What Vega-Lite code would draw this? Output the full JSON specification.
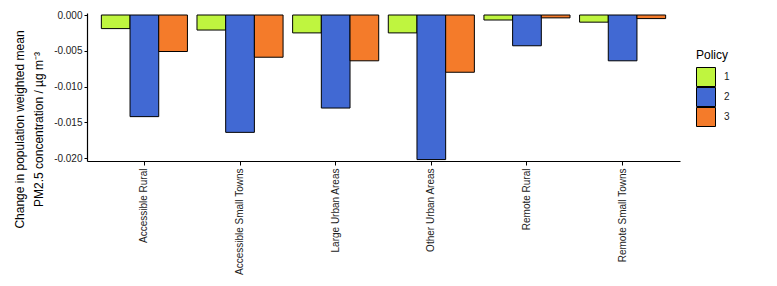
{
  "$schema": "https://vega.github.io/schema/vega-lite/v6.json",
  "autosize": {"type": "none"},
  "padding": {"left": 87, "top": 13, "right": 97, "bottom": 125},
  "width": 593,
  "height": 148,
  "background": "white",
  "data": {
    "values": [
      {"area": "Accessible Rural", "policy": "1", "change": -0.0019},
      {"area": "Accessible Rural", "policy": "2", "change": -0.0142},
      {"area": "Accessible Rural", "policy": "3", "change": -0.0051},
      {"area": "Accessible Small Towns", "policy": "1", "change": -0.0021},
      {"area": "Accessible Small Towns", "policy": "2", "change": -0.0164},
      {"area": "Accessible Small Towns", "policy": "3", "change": -0.0059},
      {"area": "Large Urban Areas", "policy": "1", "change": -0.0025},
      {"area": "Large Urban Areas", "policy": "2", "change": -0.0130},
      {"area": "Large Urban Areas", "policy": "3", "change": -0.0064},
      {"area": "Other Urban Areas", "policy": "1", "change": -0.0025},
      {"area": "Other Urban Areas", "policy": "2", "change": -0.0202},
      {"area": "Other Urban Areas", "policy": "3", "change": -0.0080},
      {"area": "Remote Rural", "policy": "1", "change": -0.0007},
      {"area": "Remote Rural", "policy": "2", "change": -0.0043},
      {"area": "Remote Rural", "policy": "3", "change": -0.0004},
      {"area": "Remote Small Towns", "policy": "1", "change": -0.0010},
      {"area": "Remote Small Towns", "policy": "2", "change": -0.0064},
      {"area": "Remote Small Towns", "policy": "3", "change": -0.0005}
    ]
  },
  "mark": {"type": "bar", "stroke": "black", "strokeWidth": 1},
  "encoding": {
    "x": {
      "field": "area",
      "type": "nominal",
      "scale": {"paddingInner": 0.1, "paddingOuter": 0.15},
      "axis": {
        "title": null,
        "labelAngle": -90,
        "labelAlign": "right",
        "labelBaseline": "middle",
        "labelFont": "Liberation Sans",
        "labelFontSize": 10,
        "labelColor": "#222222",
        "labelPadding": 3,
        "tickColor": "black",
        "tickSize": 4,
        "domainColor": "black",
        "domainWidth": 1.2,
        "grid": false
      }
    },
    "xOffset": {"field": "policy", "type": "nominal", "scale": {"paddingInner": 0, "paddingOuter": 0}},
    "y": {
      "field": "change",
      "type": "quantitative",
      "scale": {"domain": [-0.0204, 0.00028], "nice": false, "zero": false},
      "axis": {
        "title": ["Change in population weighted mean", "PM2.5 concentration / µg m⁻³"],
        "titleFont": "Liberation Sans",
        "titleFontSize": 12,
        "titleFontWeight": "normal",
        "titleColor": "black",
        "titlePadding": 8,
        "titleLineHeight": 19,
        "titleY": 116,
        "values": [0, -0.005, -0.01, -0.015, -0.02],
        "labelExpr": "replace(format(datum.value, '.3f'), '\u2212', '-')",
        "labelFont": "Liberation Sans",
        "labelFontSize": 10,
        "labelColor": "#222222",
        "labelPadding": 2,
        "tickColor": "black",
        "tickSize": 3,
        "domainColor": "black",
        "domainWidth": 1.2,
        "grid": false
      }
    },
    "color": {
      "field": "policy",
      "type": "nominal",
      "scale": {"domain": ["1", "2", "3"], "range": ["#BFF53F", "#4169D3", "#F47B2A"]},
      "legend": {
        "title": "Policy",
        "orient": "none",
        "legendX": 609,
        "legendY": 37,
        "titleFont": "Liberation Sans",
        "titleFontSize": 12,
        "titleFontWeight": "normal",
        "titleColor": "black",
        "titlePadding": 5,
        "labelFont": "Liberation Sans",
        "labelFontSize": 10,
        "labelColor": "#222222",
        "labelOffset": 8,
        "symbolType": "square",
        "symbolSize": 361,
        "clipHeight": 20,
        "symbolStrokeColor": "black",
        "symbolStrokeWidth": 1,
        "symbolOpacity": 1,
        "rowPadding": 0
      }
    }
  },
  "config": {
    "view": {"stroke": null},
    "font": "Liberation Sans"
  }
}
